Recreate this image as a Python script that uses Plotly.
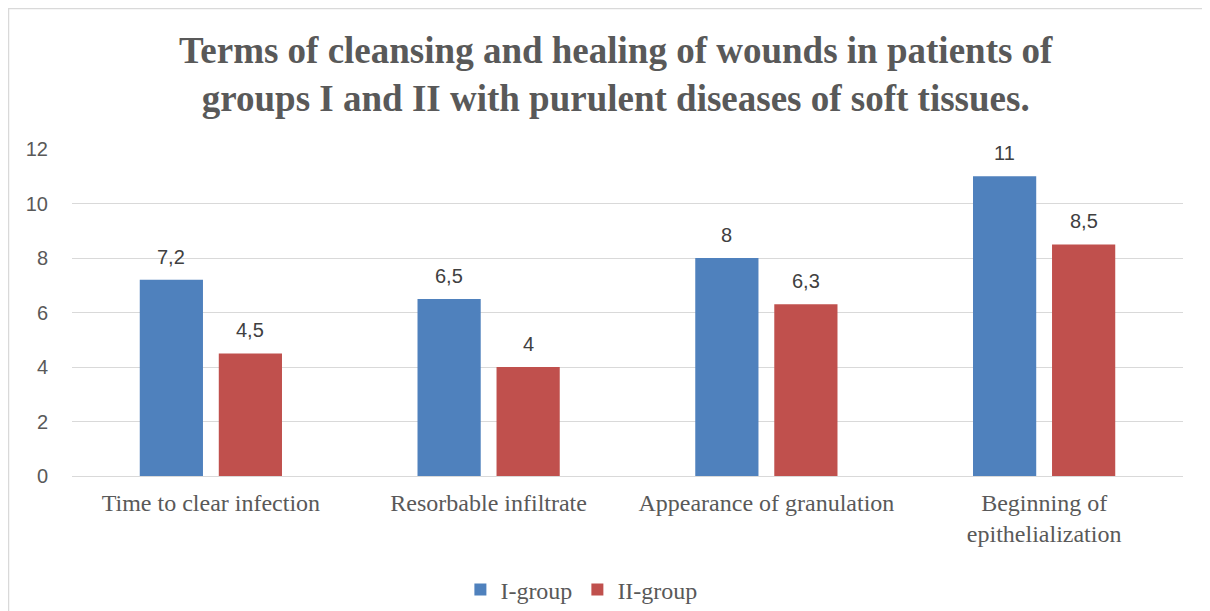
import plotly.graph_objects as go

categories = ["Time to clear infection", "Resorbable infiltrate",
              "Appearance of granulation", "Beginning of<br>epithelialization"]
group1 = [7.2, 6.5, 8, 11]
group2 = [4.5, 4, 6.3, 8.5]
labels1 = ["7,2", "6,5", "8", "11"]
labels2 = ["4,5", "4", "6,3", "8,5"]
series_names = ["I-group", "II-group"]
colors = ["#4F81BD", "#C0504D"]

# page body has an 8px margin, so the figure is 8px smaller than the window
W, H = 1202, 603
L, R, T, B = 64, 27, 141, 135
pw = W - L - R
ph = H - T - B

fig = go.Figure()
fig.add_trace(go.Bar(x=categories, y=group1, name=series_names[0],
                     marker=dict(color=colors[0], line=dict(width=0))))
fig.add_trace(go.Bar(x=categories, y=group2, name=series_names[1],
                     marker=dict(color=colors[1], line=dict(width=0))))

bargap = 0.431
bargroupgap = 0.2
slot = pw / len(categories)
off = slot * (1 - bargap) / 4

for vals, labs, sgn in [(group1, labels1, -1), (group2, labels2, 1)]:
    for c, v, lab in zip(categories, vals, labs):
        fig.add_annotation(x=c, y=v, text=lab, showarrow=False,
                           xshift=sgn * off, yshift=23,
                           font=dict(family="Liberation Sans, Arial", size=20, color="#404040"))

title_lines = ["Terms of cleansing and healing of wounds in patients of",
               "groups I and II with purulent diseases of soft tissues."]
fig.add_annotation(xref="paper", yref="paper", x=(608 - L) / pw, y=(H - B - 66.5) / ph,
                   text="<b>" + "<br>".join(title_lines) + "</b>", showarrow=False,
                   xanchor="center", yanchor="middle",
                   font=dict(family="Liberation Serif, Times New Roman", size=37, color="#595959"))

# chart area border
fig.add_shape(type="rect", xref="paper", yref="paper",
              x0=(0.5 - L) / pw, x1=(1260 - L) / pw,
              y0=(H - B - 700) / ph, y1=(H - B - 0.5) / ph,
              line=dict(color="#D9D9D9", width=1.5), layer="below")

fig.update_layout(
    width=W, height=H,
    margin=dict(l=L, r=R, t=T, b=B, autoexpand=False),
    paper_bgcolor="white", plot_bgcolor="white",
    barmode="group", bargap=bargap, bargroupgap=bargroupgap,
    showlegend=True,
    legend=dict(orientation="h", x=0.4585, xanchor="center",
                y=(H - B - 582) / ph, yanchor="middle",
                font=dict(family="Liberation Serif, Times New Roman", size=24, color="#595959"),
                itemwidth=30, traceorder="normal"),
    xaxis=dict(showgrid=False, showline=False, ticks="", automargin=False,
               ticklabelstandoff=10,
               tickfont=dict(family="Liberation Serif, Times New Roman", size=24, color="#595959")),
    yaxis=dict(range=[0, 12], dtick=2, showgrid=True, gridcolor="#D9D9D9", gridwidth=1.3,
               zeroline=True, zerolinecolor="#D9D9D9", zerolinewidth=1.3, automargin=False,
               showline=False, ticks="", ticklabelstandoff=23,
               tickfont=dict(family="Liberation Sans, Arial", size=20, color="#595959")),
)
fig.write_html("out.html")
